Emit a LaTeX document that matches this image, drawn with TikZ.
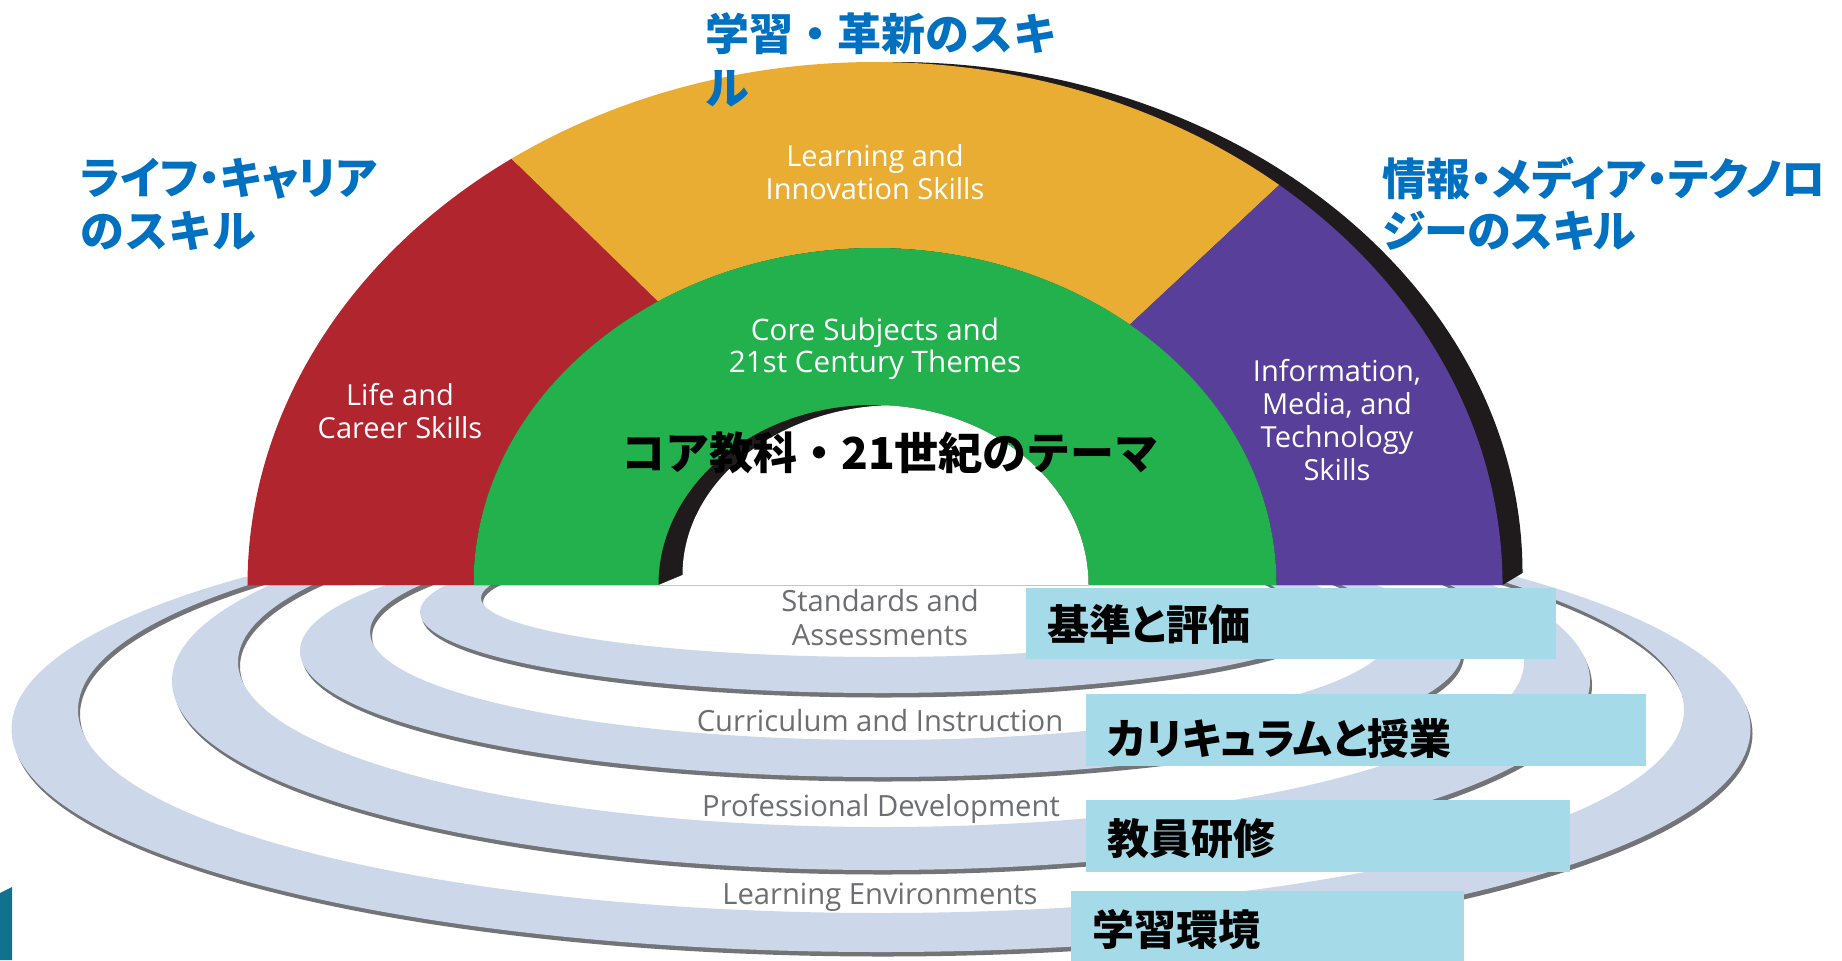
\documentclass[tikz,border=0pt]{standalone}
\usepackage{fontspec}
\newfontfamily\jp{Noto Sans CJK JP}
\newfontfamily\jpp[RawFeature=+palt]{Noto Sans CJK JP}
\newfontfamily\pts{Open Sans}
\definecolor{cred}{HTML}{B0252E}
\definecolor{corange}{HTML}{E9AD33}
\definecolor{cgreen}{HTML}{23B14D}
\definecolor{cpurple}{HTML}{58409A}
\definecolor{crim}{HTML}{1F1A1C}
\definecolor{headblue}{HTML}{0070C0}
\definecolor{boxblue}{HTML}{A5DBE8}
\definecolor{ringfill}{HTML}{CCD7EA}
\definecolor{ringshadow}{HTML}{727477}
\definecolor{ringtxt}{HTML}{6D6E71}
\definecolor{tealc}{HTML}{11728F}
\begin{document}
\begin{tikzpicture}[x=0.5pt,y=-0.5pt,
  archlbl/.style={text=white, font=\pts\fontsize{14.5}{16}\selectfont, anchor=base, inner sep=0},
  archlblb/.style={text=white, font=\pts\fontsize{14.8}{16}\selectfont, anchor=base, inner sep=0},
  ringlbl/.style={text=ringtxt, font=\pts\fontsize{14.6}{16}\selectfont, anchor=base, inner sep=0},
  bluehead/.style={text=headblue, font=\jp\bfseries\fontsize{22}{26}\selectfont, anchor=base west, inner sep=0},
  blueheadp/.style={text=headblue, font=\jpp\bfseries\fontsize{22}{26}\selectfont, anchor=base west, inner sep=0},
  coretxt/.style={text=black, font=\jp\bfseries\fontsize{22}{26}\selectfont, anchor=base, inner sep=0},
  boxtxt/.style={text=black, font=\jpp\bfseries\fontsize{21}{25}\selectfont, anchor=base west, inner sep=0},
  lbox/.style={fill=boxblue, draw=none, inner sep=0, outer sep=0, anchor=north west}]
\useasboundingbox (0,0) rectangle (1842,960);
\fill[white] (0,0) rectangle (1842,960);

% ---- support-system rings ----
\begin{scope}
\clip (0,577) rectangle (1842,962);
\foreach \cyo/\rxo/\ryo/\cyi/\rxi/\ryi in {729/869.5/223/710/803/203, 681/709/189/662/643/165, 651/581/126/632/511/108, 612/461/81/598/400/59}{
  \fill[ringshadow, even odd rule] (883,{\cyo+4.5}) ellipse[x radius=\rxo, y radius=\ryo] (883,{\cyi+4.5}) ellipse[x radius=\rxi, y radius=\ryi];
  \fill[ringfill, even odd rule] (881,\cyo) ellipse[x radius=\rxo, y radius=\ryo] (881,\cyi) ellipse[x radius=\rxi, y radius=\ryi];
}
\end{scope}

% ---- arch ----
% back rim
\fill[crim] (247.5,585) -- (267.5,573) arc[start angle=180, end angle=360, x radius=627.5, y radius=511] -- (1502.5,585) -- cycle;
% red
\fill[cred] (247.5,585) arc[start angle=180, end angle=234.6, x radius=627.5, y radius=523] -- (658.1,301.4) arc[start angle=237.3, end angle=180, x radius=401.5, y radius=337] -- cycle;
% orange
\fill[corange] (511.5,158.7) arc[start angle=234.6, end angle=310.1, x radius=627.5, y radius=523] -- (1129.8,324.6) arc[start angle=309.4, end angle=237.3, x radius=401.5, y radius=337] -- cycle;
% purple
\fill[cpurple] (1279.2,185) arc[start angle=310.1, end angle=360, x radius=627.5, y radius=523] -- (1276.5,585) arc[start angle=360, end angle=309.4, x radius=401.5, y radius=337] -- cycle;
% green
\fill[cgreen] (473.5,585) arc[start angle=180, end angle=360, x radius=401.5, y radius=337] -- cycle;
% inner hole
\fill[crim] (658.5,585) arc[start angle=180, end angle=360, x radius=215, y radius=180] -- cycle;
\begin{scope}
\clip (658.5,585) arc[start angle=180, end angle=360, x radius=215, y radius=180] -- cycle;
\fill[white] (658.5,585) -- (682.5,575) arc[start angle=180, end angle=360, x radius=215, y radius=170] -- (1112.5,590) -- (658.5,590) -- cycle;
\end{scope}

% teal sliver
\fill[tealc] (0,893) -- (12,887) -- (12,960) -- (0,960) -- cycle;

% ---- arch labels ----
\node[archlbl] (la1) at (875,166) {Learning and};
\node[archlbl] (la2) at (875,199) {Innovation Skills};
\node[archlblb] (co1) at (875,340) {Core Subjects and};
\node[archlblb] (co2) at (875,372) {21st Century Themes};
\node[archlbl] (li1) at (400,405) {Life and};
\node[archlbl] (li2) at (400,438) {Career Skills};
\node[archlbl] (in1) at (1337,381) {Information,};
\node[archlbl] (in2) at (1337,414) {Media, and};
\node[archlbl] (in3) at (1337,447) {Technology};
\node[archlbl] (in4) at (1337,480) {Skills};

% ---- ring labels ----
\node[ringlbl] (sa1) at (880,611) {Standards and};
\node[ringlbl] (sa2) at (880,645) {Assessments};
\node[ringlbl] (ci) at (880,731) {Curriculum and Instruction};
\node[ringlbl] (pd) at (881,816) {Professional Development};
\node[ringlbl] (le) at (880,904) {Learning Environments};

% ---- Japanese headings ----
\node[blueheadp] (h1a) at (80,194) {ライフ・キャリア};
\node[bluehead] (h1b) at (80,247) {のスキル};
\node[bluehead] (h2a) at (705,50) {学習・革新のスキ};
\node[bluehead] (h2b) at (705,104) {ル};
\node[blueheadp] (h3a) at (1382,195) {情報・メディア・テクノロ};
\node[blueheadp] (h3b) at (1382,247) {ジーのスキル};
\node[coretxt] (core) at (890,469) {コア教科・21世紀のテーマ};

% ---- label boxes ----
\node[lbox, minimum width=265pt, minimum height=35.5pt] (b1) at (1026,588) {};
\node[boxtxt] (t1) at (1047,640) {基準と評価};
\node[lbox, minimum width=280pt, minimum height=36pt] (b2) at (1086,694) {};
\node[boxtxt] (t2) at (1107,754) {カリキュラムと授業};
\node[lbox, minimum width=242pt, minimum height=36pt] (b3) at (1086,800) {};
\node[boxtxt] (t3) at (1107,854) {教員研修};
\node[lbox, minimum width=196.5pt, minimum height=35pt] (b4) at (1071,891) {};
\node[boxtxt] (t4) at (1092,945) {学習環境};
\end{tikzpicture}
\end{document}
